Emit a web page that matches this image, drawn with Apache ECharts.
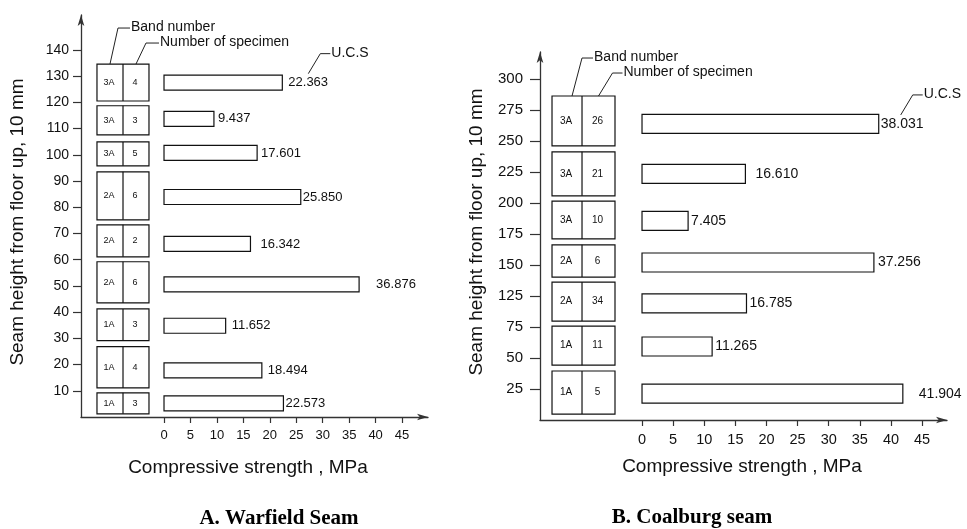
<!DOCTYPE html>
<html><head><meta charset="utf-8">
<script src="https://cdn.jsdelivr.net/npm/echarts@6/dist/echarts.min.js"></script>
<style>html,body{margin:0;padding:0;background:#fff}#c{width:967px;height:529px}</style>
</head><body><div id="c"></div>
<script>
// ===== A. Warfield Seam (rows listed bottom -> top) =====
const ucsA        = [22.573, 18.494, 11.652, 36.876, 16.342, 25.850, 17.601, 9.437, 22.363];
const heightA     = [5.2, 17.8, 34.8, 50.6, 66.0, 83.9, 100.7, 113.7, 127.5];
const bandA       = ['1A','1A','1A','2A','2A','2A','3A','3A','3A'];
const specimensA  = [3, 4, 3, 6, 2, 6, 5, 3, 4];
const bandBottomA = [1.2, 11.1, 29.1, 43.5, 61.1, 75.2, 95.8, 107.6, 120.5];
const bandTopA    = [9.2, 26.8, 41.2, 59.2, 73.3, 93.5, 104.9, 118.7, 134.6];
const yTicksA     = [10, 20, 30, 40, 50, 60, 70, 80, 90, 100, 110, 120, 130, 140];

// ===== B. Coalburg seam (rows listed bottom -> top; heights in tick-slot units) =====
const ucsB        = [41.904, 11.265, 16.785, 37.256, 7.405, 16.610, 38.031];
const heightB     = [0.85, 2.37, 3.76, 5.08, 6.42, 7.94, 9.55];
const bandB       = ['1A','1A','2A','2A','3A','3A','3A'];
const specimensB  = [5, 11, 34, 6, 10, 21, 26];
const bandBottomB = [0.19, 1.77, 3.19, 4.61, 5.84, 7.23, 8.84];
const bandTopB    = [1.58, 3.03, 4.45, 5.65, 7.06, 8.65, 10.45];
const yTicksB     = [25, 50, 75, 125, 150, 175, 200, 225, 250, 275, 300];

const xTicks      = [0, 5, 10, 15, 20, 25, 30, 35, 40, 45];

// ===== style / layout =====
const FONT = 'Arial, "Liberation Sans", sans-serif';
const SERIF = '"Times New Roman", "Liberation Serif", serif';
const INK = '#111';
const labelGapA = [2, 6, 6, 17, 10, 2, 4, 4, 6];
const labelGapB = [16, 3, 3, 4, 3, 10, 2];
const boxXA = [-12.67, -7.75, -2.84];   // left edge, divider, right edge (x-units)
const boxXB = [-14.46, -9.64, -4.34];
const P = [
  {ucs: ucsA, h: heightA, band: bandA, spec: specimensA, bot: bandBottomA, top: bandTopA,
   gap: labelGapA, boxX: boxXA, barH: 15, valFont: 13, boxFont: 9},
  {ucs: ucsB, h: heightB, band: bandB, spec: specimensB, bot: bandBottomB, top: bandTopB,
   gap: labelGapB, boxX: boxXB, barH: 19, valFont: 14, boxFont: 10}
];

const chart = echarts.init(document.getElementById('c'), null, {renderer: 'canvas'});

function axisCommon(fontSize) {
  return {
    axisLine: {show: true, onZero: false, symbol: ['none', 'arrow'], symbolSize: [5, 11],
               lineStyle: {color: '#333', width: 1.3}},
    axisTick: {show: true, inside: false, lineStyle: {color: '#333', width: 1.2}},
    axisLabel: {color: INK, fontFamily: FONT, fontSize: fontSize},
    splitLine: {show: false}
  };
}

function barSeries(i) {
  const p = P[i];
  return {
    type: 'custom', xAxisIndex: i, yAxisIndex: i, silent: true,
    data: p.ucs.map((v, k) => [v, p.h[k]]),
    renderItem: function (params, api) {
      const k = params.dataIndex;
      const v = api.value(0), y = api.value(1);
      const a = api.coord([0, y]), b = api.coord([v, y]);
      return {type: 'group', children: [
        {type: 'rect', shape: {x: a[0], y: a[1] - p.barH / 2, width: b[0] - a[0], height: p.barH},
         style: {fill: '#fff', stroke: '#111', lineWidth: 1.2}},
        {type: 'text', style: {text: v.toFixed(3), x: b[0] + p.gap[k], y: b[1],
         align: 'left', verticalAlign: 'middle', fill: INK, fontSize: p.valFont, fontFamily: FONT}}
      ]};
    }
  };
}

function boxSeries(i) {
  const p = P[i];
  return {
    type: 'custom', xAxisIndex: i, yAxisIndex: i, silent: true,
    data: p.bot.map((v, k) => [v, p.top[k]]),
    renderItem: function (params, api) {
      const k = params.dataIndex;
      const lo = api.value(0), hi = api.value(1);
      const tl = api.coord([p.boxX[0], hi]), br = api.coord([p.boxX[2], lo]);
      const mid = api.coord([p.boxX[1], hi])[0];
      const cy = (tl[1] + br[1]) / 2;
      return {type: 'group', children: [
        {type: 'rect', shape: {x: tl[0], y: tl[1], width: br[0] - tl[0], height: br[1] - tl[1]},
         style: {fill: '#fff', stroke: '#111', lineWidth: 1.2}},
        {type: 'line', shape: {x1: mid, y1: tl[1], x2: mid, y2: br[1]},
         style: {stroke: '#111', lineWidth: 1.2}},
        {type: 'text', style: {text: p.band[k], x: (tl[0] + mid) / 2 - 1, y: cy,
         align: 'center', verticalAlign: 'middle', fill: INK, fontSize: p.boxFont, fontFamily: FONT}},
        {type: 'text', style: {text: String(p.spec[k]), x: (mid + br[0]) / 2 - 1, y: cy,
         align: 'center', verticalAlign: 'middle', fill: INK, fontSize: p.boxFont, fontFamily: FONT}}
      ]};
    }
  };
}

const option = {
  backgroundColor: '#fff',
  animation: false,
  grid: [
    {left: 81, top: 15, width: 347, height: 402},
    {left: 540, top: 52, width: 407, height: 368}
  ],
  xAxis: [
    Object.assign(axisCommon(13), {type: 'value', gridIndex: 0, min: -15.69, max: 49.9}),
    Object.assign(axisCommon(14.5), {type: 'value', gridIndex: 1, min: -16.39, max: 49.0})
  ],
  yAxis: [
    Object.assign(axisCommon(14), {type: 'value', gridIndex: 0, min: 0, max: 153.3}),
    Object.assign(axisCommon(15), {type: 'value', gridIndex: 1, min: 0, max: 11.87})
  ],
  series: [boxSeries(0), barSeries(0), boxSeries(1), barSeries(1)]
};
// ticks (label margin is measured from the axis line)
option.xAxis.forEach(ax => {
  ax.axisTick.customValues = xTicks; ax.axisTick.length = 6;
  ax.axisLabel.customValues = xTicks; ax.axisLabel.margin = 12;
});
option.yAxis[0].axisTick.customValues = yTicksA; option.yAxis[0].axisTick.length = 8;
option.yAxis[0].axisLabel.customValues = yTicksA; option.yAxis[0].axisLabel.margin = 12;
const slotsB = yTicksB.map((t, k) => k + 1);
option.yAxis[1].axisTick.customValues = slotsB; option.yAxis[1].axisTick.length = 10;
option.yAxis[1].axisLabel.customValues = slotsB; option.yAxis[1].axisLabel.margin = 17;
option.yAxis[1].axisLabel.formatter = v => String(yTicksB[Math.round(v) - 1]);

chart.setOption(option);

// ===== annotations anchored to the data =====
function px(g, x, y) { return chart.convertToPixel({xAxisIndex: g, yAxisIndex: g}, [x, y]); }
const g = [];
function leader(start, d1, d2, text, fontSize) {
  const a = start, b = [a[0] + d1[0], a[1] + d1[1]], c = [b[0] + d2, b[1]];
  g.push({type: 'polyline', silent: true, shape: {points: [a, b, c]},
          style: {stroke: '#222', lineWidth: 1, fill: null}});
  g.push({type: 'text', silent: true, style: {text: text, x: c[0] + 1, y: c[1] - 1, align: 'left',
          verticalAlign: 'middle', fill: INK, fontSize: fontSize, fontFamily: FONT}});
}
[0, 1].forEach(i => {
  const p = P[i], n = p.top.length - 1;
  const topY = p.top[n];
  const lc = px(i, (p.boxX[0] + p.boxX[1]) / 2, topY);
  const rc = px(i, (p.boxX[1] + p.boxX[2]) / 2, topY);
  if (i === 0) {
    leader(lc, [8, -36], 12, 'Band number', 14);
    leader(rc, [10, -21], 13, 'Number of specimen', 14);
  } else {
    leader([lc[0] + 5, lc[1]], [10, -38], 11, 'Band number', 14);
    leader(rc, [14, -23], 10, 'Number of specimen', 14);
  }
  // U.C.S leader from the top bar's value label
  const m = p.ucs.length - 1;
  const e = px(i, p.ucs[m], p.h[m]);
  leader([e[0] + p.gap[m] + 20, e[1] - 9], [12, -20], 10, 'U.C.S', 14);
});
// axis titles and captions
g.push({type: 'text', silent: true, rotation: Math.PI / 2, x: 18, y: 222,
        style: {text: 'Seam height from floor up, 10 mm', align: 'center', verticalAlign: 'middle',
                fill: INK, fontSize: 19, fontFamily: FONT}});
g.push({type: 'text', silent: true, rotation: Math.PI / 2, x: 477, y: 232,
        style: {text: 'Seam height from floor up, 10 mm', align: 'center', verticalAlign: 'middle',
                fill: INK, fontSize: 19, fontFamily: FONT}});
g.push({type: 'text', silent: true, x: 248, y: 468,
        style: {text: 'Compressive strength , MPa', align: 'center', verticalAlign: 'middle',
                fill: INK, fontSize: 19, fontFamily: FONT}});
g.push({type: 'text', silent: true, x: 742, y: 467,
        style: {text: 'Compressive strength , MPa', align: 'center', verticalAlign: 'middle',
                fill: INK, fontSize: 19, fontFamily: FONT}});
g.push({type: 'text', silent: true, x: 279, y: 519,
        style: {text: 'A. Warfield Seam', align: 'center', verticalAlign: 'middle',
                fill: '#000', fontSize: 21, fontWeight: 'bold', fontFamily: SERIF}});
g.push({type: 'text', silent: true, x: 692, y: 518,
        style: {text: 'B. Coalburg seam', align: 'center', verticalAlign: 'middle',
                fill: '#000', fontSize: 21, fontWeight: 'bold', fontFamily: SERIF}});
chart.setOption({graphic: g});
</script>
</body></html>
